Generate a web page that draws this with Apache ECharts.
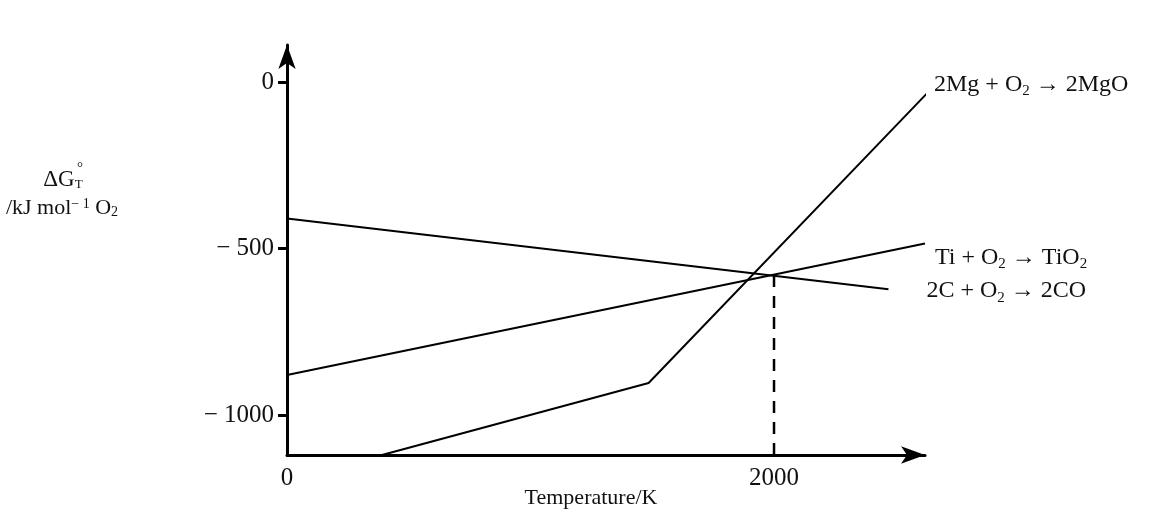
<!DOCTYPE html>
<html>
<head>
<meta charset="utf-8">
<script src="https://cdn.jsdelivr.net/npm/echarts@6/dist/echarts.min.js"></script>
<style>html,body{margin:0;padding:0;background:#fff}#c{width:1176px;height:515px}</style>
</head>
<body>
<div id="c"></div>
<script>
// Data (T in K, ΔG in kJ mol-1 O2)
const mgT = [390, 1485, 2640];
const mgG = [-1120, -904, -25];
const tiT = [0, 2620];
const tiG = [-880, -485];
const coT = [0, 2470];
const coG = [-410, -622];
const dashT = [2000, 2000];
const dashG = [-1120, -577];
const yTickValues = [0, -500, -1000];
const yTickLabels = ['0', '\u2212 500', '\u2212 1000'];
const xTickValues = [0, 2000];
const xTickLabels = ['0', '2000'];
const seriesNames = ['2Mg + O{s|2} \u2192 2MgO', 'Ti + O{s|2} \u2192 TiO{s|2}', '2C + O{s|2} \u2192 2CO'];

const FONT = '"Liberation Serif", "DejaVu Serif", serif';
const rich = {
  s: {fontSize: 15, fontFamily: FONT, color: '#111', verticalAlign: 'bottom', lineHeight: 15},
};
function pairs(xs, ys) { return xs.map((x, i) => [x, ys[i]]); }
function endLabel(name, offset) {
  return {
    show: true, formatter: name, offset: offset, distance: 0,
    fontFamily: FONT, fontSize: 24, color: '#111', lineHeight: 28, rich: rich
  };
}
const lineStyle = {color: '#000', width: 2};
const chart = echarts.init(document.getElementById('c'), null, {renderer: 'canvas'});
chart.setOption({
  animation: false,
  backgroundColor: '#fff',
  grid: {left: 287, top: 45, right: 251, bottom: 60, containLabel: false, outerBoundsMode: 'none'},
  xAxis: {
    type: 'value', min: 0, max: 2620,
    axisLine: {show: true, onZero: false, lineStyle: {color: '#000', width: 3}, symbol: ['none', 'arrow'], symbolSize: [13, 24]},
    axisTick: {show: false},
    splitLine: {show: false},
    axisLabel: {
      customValues: xTickValues, margin: 11,
      formatter: v => xTickLabels[xTickValues.indexOf(v)] ?? '',
      fontFamily: FONT, fontSize: 25, color: '#111'
    },
    name: 'Temperature/K', nameLocation: 'middle', nameGap: 32, nameMoveOverlap: false,
    nameTextStyle: {fontFamily: FONT, fontSize: 22, color: '#111', padding: [0, 30, 0, 0]}
  },
  yAxis: {
    type: 'value', min: -1120, max: 111,
    axisLine: {show: true, onZero: false, lineStyle: {color: '#000', width: 3}, symbol: ['none', 'arrow'], symbolSize: [13, 24]},
    axisTick: {show: true, customValues: yTickValues, length: 9, lineStyle: {color: '#000', width: 3}},
    splitLine: {show: false},
    axisLabel: {
      customValues: yTickValues, margin: 13,
      formatter: v => yTickLabels[yTickValues.indexOf(v)] ?? '',
      fontFamily: FONT, fontSize: 25, color: '#111'
    }
  },
  graphic: [
    {type: 'text', x: 63, y: 180, style: {text: '\u0394G{t|T}', fontFamily: FONT, fontSize: 23, fill: '#111', align: 'center', verticalAlign: 'middle',
      rich: {t: {fontSize: 13, fontFamily: FONT, fill: '#111', verticalAlign: 'bottom', lineHeight: 13}}}},
    {type: 'text', x: 80, y: 168, style: {text: '\u00b0', fontFamily: FONT, fontSize: 15, fill: '#111', align: 'center', verticalAlign: 'middle'}},
    {type: 'text', x: 62, y: 208, style: {text: '/kJ mol{u|\u2212 1} O{s|2}', fontFamily: FONT, fontSize: 22, fill: '#111', align: 'center', verticalAlign: 'middle',
      rich: {
        u: {fontSize: 14, fontFamily: FONT, fill: '#111', verticalAlign: 'top', lineHeight: 14},
        s: {fontSize: 14, fontFamily: FONT, fill: '#111', verticalAlign: 'bottom', lineHeight: 14}
      }}}
  ],
  series: [
    {type: 'line', name: 'Mg', data: pairs(mgT, mgG), showSymbol: false, symbol: 'none', lineStyle: lineStyle, z: 3,
      endLabel: endLabel(seriesNames[0], [8, -10])},
    {type: 'line', name: 'Ti', data: pairs(tiT, tiG), showSymbol: false, symbol: 'none', lineStyle: lineStyle, z: 3,
      endLabel: endLabel(seriesNames[1], [10, 14])},
    {type: 'line', name: 'CO', data: pairs(coT, coG), showSymbol: false, symbol: 'none', lineStyle: lineStyle, z: 3,
      endLabel: endLabel(seriesNames[2], [38, 2])},
    {type: 'line', name: 'dash', data: pairs(dashT, dashG), showSymbol: false, symbol: 'none', lineStyle: {color: '#000', width: 2.5, type: [12, 9]}, z: 2}
  ]
});
</script>
</body>
</html>
